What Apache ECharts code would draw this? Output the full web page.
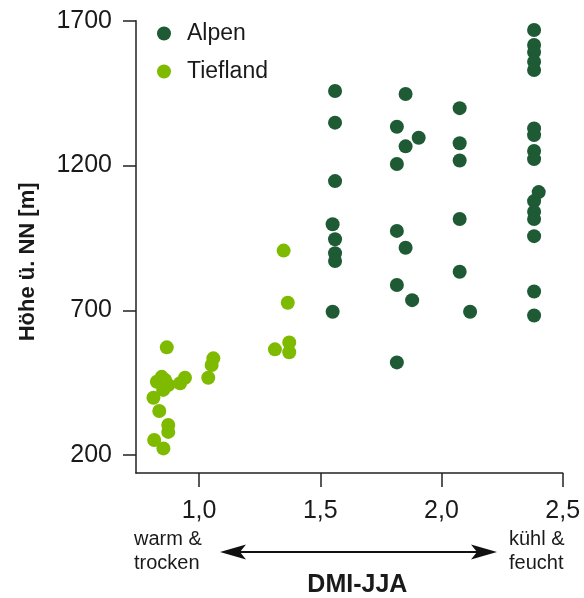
<!DOCTYPE html>
<html>
<head>
<meta charset="utf-8">
<script src="https://cdn.jsdelivr.net/npm/echarts@6/dist/echarts.min.js"></script>
<style>
html,body{margin:0;padding:0;background:#fff;}
#chart{width:584px;height:598px;}
</style>
</head>
<body>
<div id="chart"></div>
<script>
// Alpen: [DMI-JJA, Höhe]
const alpenX = [1.561,1.561,1.561,1.551,1.561,1.561,1.561,1.551,
  1.852,1.816,1.906,1.852,1.816,1.816,1.852,1.816,1.879,1.816,
  2.075,2.075,2.075,2.075,2.075,2.118,
  2.382,2.382,2.382,2.382,2.382,2.382,2.382,2.382,2.382,2.401,2.382,2.382,2.382,2.382,2.382,2.382];
const alpenY = [1457,1348,1146,997,945,897,870,695,
  1447,1334,1296,1266,1205,974,916,787,735,520,
  1398,1277,1217,1015,833,695,
  1668,1616,1592,1558,1530,1328,1305,1250,1222,1108,1077,1040,1015,956,765,682];
// Tiefland
const tieflandX = [1.349,1.366,1.372,1.313,1.372,
  0.867,1.059,1.052,1.038,0.942,0.922,0.846,0.826,0.873,0.852,0.860,
  0.812,0.836,0.873,0.873,0.815,0.853];
const tieflandY = [906,726,589,565,555,
  572,534,511,467,467,448,470,453,442,425,459,
  398,352,304,280,252,223];
const xTicks = [1.0,1.5,2.0,2.5];
const yTicks = [200,700,1200,1700];
const seriesNames = ['Alpen','Tiefland'];
const colors = ['#1e5a33','#7dba00'];

const zip = (a,b) => a.map((v,i)=>[v,b[i]]);
const font = 'Liberation Sans, Arial, Helvetica, sans-serif';
const txt = '#1a1a1a';
const axisLineStyle = {color:'#222', width:1.5};

const chart = echarts.init(document.getElementById('chart'), null, {renderer:'canvas'});
chart.setOption({
  animation:false,
  backgroundColor:'#fff',
  grid:{left:136, right:21.3, top:20.7, bottom:125, containLabel:false, outerBoundsMode:'none'},
  legend:{
    orient:'vertical', left:152, top:17,
    icon:'circle', itemWidth:14, itemHeight:14, itemGap:15,
    textStyle:{fontFamily:font, fontSize:23, color:txt, padding:[0,0,0,11]},
    data:seriesNames
  },
  xAxis:{
    type:'value', min:0.740, max:2.5,
    splitLine:{show:false},
    axisLine:{show:true, lineStyle:axisLineStyle},
    axisTick:{show:true, length:14, lineStyle:axisLineStyle, customValues:xTicks},
    axisLabel:{customValues:xTicks, margin:26, fontFamily:font, fontSize:25, color:txt,
      formatter:v=>v.toFixed(1).replace('.',',')},
    name:'DMI-JJA', nameLocation:'middle', nameGap:100,
    nameTextStyle:{fontFamily:font, fontSize:25, fontWeight:'bold', color:txt, padding:[0,0,0,16]}
  },
  yAxis:{
    type:'value', min:138, max:1700,
    splitLine:{show:false},
    axisLine:{show:true, lineStyle:axisLineStyle},
    axisTick:{show:true, length:13, lineStyle:axisLineStyle, customValues:yTicks},
    axisLabel:{customValues:yTicks, margin:24, fontFamily:font, fontSize:25, color:txt,
      formatter:v=>String(Math.round(v))},
    name:'Höhe ü. NN [m]', nameLocation:'middle', nameGap:97,
    nameTextStyle:{fontFamily:font, fontSize:22, fontWeight:'bold', color:txt, padding:[0,30,0,0]}
  },
  series:[
    {name:seriesNames[0], type:'scatter', symbol:'circle', symbolSize:14,
      itemStyle:{color:colors[0], opacity:1}, data:zip(alpenX, alpenY)},
    {name:seriesNames[1], type:'scatter', symbol:'circle', symbolSize:14,
      itemStyle:{color:colors[1], opacity:1}, data:zip(tieflandX, tieflandY)}
  ],
  graphic:[
    {type:'line', shape:{x1:235, y1:552, x2:482, y2:552}, style:{stroke:'#111', lineWidth:2}},
    {type:'polygon', shape:{points:[[220,552],[246,544.5],[240,552],[246,559.5]]}, style:{fill:'#111'}},
    {type:'polygon', shape:{points:[[497,552],[471,544.5],[477,552],[471,559.5]]}, style:{fill:'#111'}},
    {type:'text', left:134, top:527, style:{text:'warm &\ntrocken', fontFamily:font, fontSize:20, lineHeight:24, fill:txt, textAlign:'left'}},
    {type:'text', left:509, top:527, style:{text:'kühl &\nfeucht', fontFamily:font, fontSize:20, lineHeight:24, fill:txt, textAlign:'left'}}
  ]
});
</script>
</body>
</html>
